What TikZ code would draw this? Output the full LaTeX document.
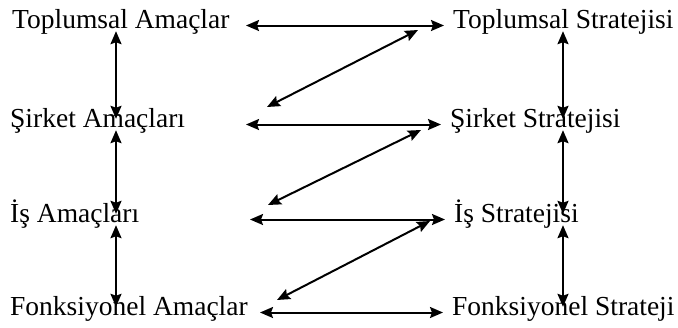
\documentclass[tikz,border=0pt]{standalone}
\usepackage{fontspec}
\setmainfont{Liberation Serif}
\usepackage{tikz}
\usetikzlibrary{arrows.meta, positioning, calc}

\begin{document}
\begin{tikzpicture}[
    x=1pt, y=-1pt,
    goal/.style={anchor=base west, inner xsep=9pt, inner ysep=2pt, text height=0.6em, text depth=0.1em, font=\fontsize{27.5}{30}\selectfont},
    dar/.style={{Stealth[length=13pt, width=11pt, inset=2pt]}-{Stealth[length=13pt, width=11pt, inset=2pt]}, line width=2pt}
]
\useasboundingbox (0,0) rectangle (678,327);

% Amaclar (left column)
\node[goal] (tA) at (3,28) {Toplumsal Amaçlar};
\node[goal] (sA) at (1,127) {Şirket Amaçları};
\node[goal] (iA) at (1,222) {İş Amaçları};
\node[goal] (fA) at (1,315) {Fonksiyonel Amaçlar};

% Stratejiler (right column)
\node[goal] (tS) at (444,28) {Toplumsal Stratejisi};
\node[goal] (sS) at (441,127) {Şirket Stratejisi};
\node[goal] (iS) at (445,222) {İş Stratejisi};
\node[goal] (fS) at (443,315) {Fonksiyonel Strateji};

% Helper columns for arrows
\coordinate (ax) at (246,0);
\coordinate (lx) at (116,0);
\coordinate (rx) at (563,0);

% Diagonal arrow ends
\coordinate (d1a) at (418,30);
\coordinate (d1b) at (267,107);
\coordinate (d2a) at (421,130);
\coordinate (d2b) at (268,205);
\coordinate (d3a) at (430,221);
\coordinate (d3b) at (277,300);

% Arrows: amaclar <-> stratejiler
\draw[dar] (tA.east -| ax) -- (tS.west);
\draw[dar] (sA.east -| ax) -- (sS.west);
\draw[dar, shorten <=4pt] (iA.east -| ax) -- (iS.west);
\draw[dar, shorten <=14pt] (fA.east -| ax) -- (fS.west);

% Arrows: left column
\draw[dar] (tA.south -| lx) -- (sA.north -| lx);
\draw[dar] (sA.south -| lx) -- (iA.north -| lx);
\draw[dar] (iA.south -| lx) -- (fA.north -| lx);

% Arrows: right column
\draw[dar] (tS.south -| rx) -- (sS.north -| rx);
\draw[dar] (sS.south -| rx) -- (iS.north -| rx);
\draw[dar] (iS.south -| rx) -- (fS.north -| rx);

% Arrows: diagonals
\draw[dar] (d1a) -- (d1b);
\draw[dar] (d2a) -- (d2b);
\draw[dar] (d3a) -- (d3b);

\end{tikzpicture}
\end{document}
